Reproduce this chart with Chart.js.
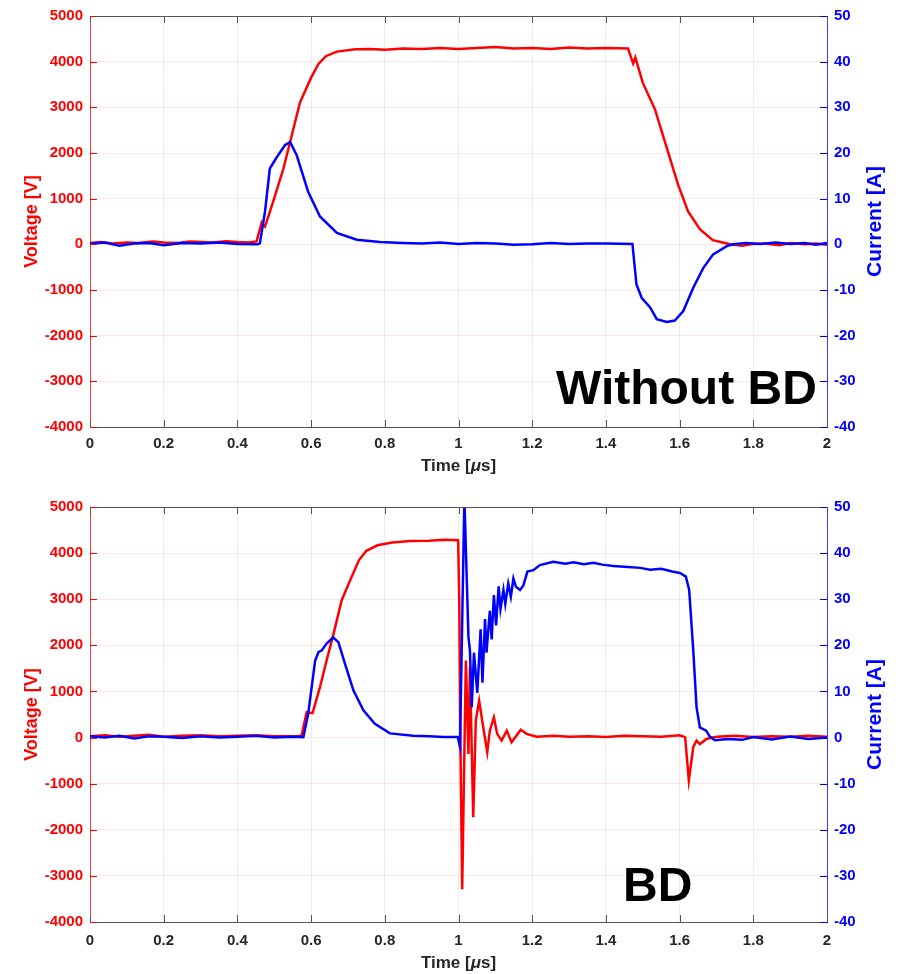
<!DOCTYPE html>
<html>
<head>
<meta charset="utf-8">
<script src="https://cdn.jsdelivr.net/npm/chart.js@4.4.0/dist/chart.umd.min.js"></script>
<style>
  html, body { margin: 0; padding: 0; background: #fff; }
  #wrap { position: relative; width: 902px; height: 974px; }
  canvas { position: absolute; left: 0; }
  #topChart { top: 0; }
  #botChart { top: 490px; }
</style>
</head>
<body>
<div id="wrap">
  <canvas id="topChart" width="902" height="490"></canvas>
  <canvas id="botChart" width="902" height="484"></canvas>
</div>
<script>
// ---- data (time in µs) ----
// top panel: without breakdown
const topVoltT = [0, 0.03, 0.06, 0.1, 0.13, 0.17, 0.2, 0.24, 0.27, 0.3, 0.33, 0.37, 0.4, 0.43, 0.452, 0.466, 0.475, 0.497, 0.525, 0.543, 0.57, 0.6, 0.62, 0.64, 0.67, 0.72, 0.76, 0.8, 0.85, 0.9, 0.95, 1.0, 1.05, 1.1, 1.15, 1.2, 1.25, 1.3, 1.35, 1.4, 1.46, 1.474, 1.48, 1.5, 1.533, 1.566, 1.596, 1.623, 1.655, 1.69, 1.737, 1.77, 1.8, 1.83, 1.87, 1.9, 1.94, 1.97, 2.0];
const topVoltV = [30, 50, 20, 40, 30, 60, 40, 30, 60, 50, 40, 70, 50, 40, 65, 480, 390, 935, 1660, 2240, 3110, 3650, 3950, 4120, 4220, 4270, 4280, 4260, 4290, 4280, 4300, 4280, 4300, 4320, 4290, 4300, 4280, 4310, 4290, 4300, 4290, 3960, 4090, 3540, 2960, 2090, 1300, 720, 330, 90, 0, -30, 10, 20, -20, 30, 0, 20, -10];
const topCurT = [0, 0.04, 0.08, 0.12, 0.16, 0.2, 0.25, 0.3, 0.35, 0.4, 0.455, 0.461, 0.475, 0.488, 0.507, 0.529, 0.543, 0.561, 0.592, 0.624, 0.67, 0.724, 0.787, 0.85, 0.9, 0.95, 1.0, 1.05, 1.1, 1.15, 1.2, 1.25, 1.3, 1.35, 1.4, 1.472, 1.483, 1.497, 1.52, 1.538, 1.565, 1.587, 1.61, 1.637, 1.664, 1.691, 1.728, 1.745, 1.78, 1.82, 1.86, 1.9, 1.94, 1.97, 2.0];
const topCurI = [0.1, 0.4, -0.3, 0.2, 0.3, -0.2, 0.3, 0.2, 0.4, 0.1, 0, 0.2, 7.2, 16.6, 19.1, 21.7, 22.4, 19.5, 11.5, 6.1, 2.5, 1.0, 0.5, 0.3, 0.2, 0.4, 0.1, 0.3, 0.2, -0.1, 0, 0.3, 0.1, 0.2, 0.2, 0.1, -8.8, -11.7, -13.8, -16.4, -17.0, -16.7, -14.6, -9.5, -5.2, -2.2, -0.4, 0, 0.3, 0.1, 0.4, 0.1, 0.3, -0.1, 0.3];

// bottom panel: breakdown
const botVoltT = [0, 0.04, 0.08, 0.12, 0.16, 0.2, 0.25, 0.3, 0.35, 0.4, 0.45, 0.5, 0.56, 0.574, 0.588, 0.604, 0.624, 0.642, 0.66, 0.683, 0.706, 0.73, 0.75, 0.78, 0.82, 0.87, 0.92, 0.96, 0.999, 1.002, 1.005, 1.01, 1.02, 1.027, 1.031, 1.04, 1.047, 1.056, 1.067, 1.078, 1.085, 1.096, 1.105, 1.117, 1.131, 1.144, 1.169, 1.185, 1.212, 1.26, 1.3, 1.35, 1.4, 1.45, 1.5, 1.55, 1.6, 1.615, 1.625, 1.637, 1.646, 1.655, 1.673, 1.7, 1.75, 1.8, 1.85, 1.9, 1.95, 2.0];
const botVoltV = [30, 50, 20, 40, 60, 20, 40, 50, 30, 40, 50, 30, 30, 40, 550, 530, 1090, 1670, 2220, 2980, 3410, 3850, 4050, 4170, 4230, 4260, 4270, 4290, 4280, 3000, 0, -3290, 1670, -355, 1530, -1730, 370, 800, 230, -320, 150, 440, 80, -65, 150, -100, 170, 80, 20, 40, 20, 30, 10, 40, 30, 20, 50, 10, -930, -210, -65, -140, -30, 20, 40, 10, 30, 20, 40, 20];
const botCurT = [0, 0.04, 0.08, 0.12, 0.16, 0.2, 0.25, 0.3, 0.35, 0.4, 0.45, 0.5, 0.55, 0.579, 0.592, 0.611, 0.62, 0.629, 0.642, 0.66, 0.674, 0.692, 0.715, 0.742, 0.773, 0.814, 0.877, 0.92, 0.96, 0.998, 1.004, 1.016, 1.027, 1.031, 1.036, 1.042, 1.051, 1.06, 1.065, 1.072, 1.076, 1.085, 1.09, 1.096, 1.102, 1.109, 1.114, 1.122, 1.127, 1.135, 1.142, 1.149, 1.156, 1.167, 1.176, 1.187, 1.203, 1.221, 1.257, 1.29, 1.312, 1.34, 1.366, 1.39, 1.42, 1.46, 1.493, 1.52, 1.55, 1.58, 1.601, 1.617, 1.626, 1.637, 1.646, 1.655, 1.672, 1.682, 1.696, 1.73, 1.77, 1.8, 1.85, 1.9, 1.95, 2.0];
const botCurI = [0.3, 0, 0.4, -0.2, 0.3, 0.2, -0.1, 0.3, 0, 0.2, 0.4, 0, 0.2, 0.1, 5.1, 16.7, 18.5, 18.9, 20.4, 21.7, 20.7, 16.0, 10.2, 5.9, 3.0, 0.9, 0.4, 0.3, 0.1, 0.1, -2, 52, 21.8, 18.9, 6.6, 18.4, 9.7, 23.5, 11.9, 25.7, 18.4, 27.5, 21.3, 30.9, 24.3, 32.8, 27.9, 32.0, 29.0, 33.4, 30.5, 34.5, 32.7, 32.0, 33.0, 36.0, 36.3, 37.4, 38.1, 37.7, 38.0, 37.6, 37.9, 37.5, 37.2, 37.0, 36.8, 36.4, 36.6, 36.0, 35.7, 34.9, 32, 19, 6.6, 2.2, 1.5, 0.2, -0.6, -0.3, -0.5, 0.1, -0.4, 0.2, -0.3, 0];

const FONT = 'Arial, "Liberation Sans", Helvetica, sans-serif';
const RED = '#ff0000', BLUE = '#0000ff', DARK = '#262626';

const pts = (ts, vs) => ts.map((t, i) => ({ x: t, y: vs[i] }));

// draws inward ticks, top frame, axis titles and the big panel tag
const decor = {
  id: 'decor',
  afterDraw(chart, args, o) {
    const { ctx, chartArea: a, scales } = chart;
    const TL = 7;
    ctx.save();
    ctx.lineWidth = 1;

    ctx.strokeStyle = '#555';
    ctx.beginPath();
    ctx.moveTo(a.left, a.top + 0.5); ctx.lineTo(a.right, a.top + 0.5);
    scales.x.ticks.forEach(t => {
      const px = Math.round(scales.x.getPixelForValue(t.value)) + 0.5;
      ctx.moveTo(px, a.bottom); ctx.lineTo(px, a.bottom - TL);
      ctx.moveTo(px, a.top);    ctx.lineTo(px, a.top + TL);
    });
    ctx.stroke();

    ctx.strokeStyle = RED;
    ctx.beginPath();
    scales.yV.ticks.forEach(t => {
      const py = Math.round(scales.yV.getPixelForValue(t.value)) + 0.5;
      ctx.moveTo(a.left, py); ctx.lineTo(a.left + TL, py);
    });
    ctx.stroke();

    ctx.strokeStyle = BLUE;
    ctx.beginPath();
    scales.yI.ticks.forEach(t => {
      const py = Math.round(scales.yI.getPixelForValue(t.value)) + 0.5;
      ctx.moveTo(a.right, py); ctx.lineTo(a.right - TL, py);
    });
    ctx.stroke();

    const midY = (a.top + a.bottom) / 2;
    ctx.textBaseline = 'middle';
    ctx.textAlign = 'center';

    // y titles, both reading bottom to top
    ctx.fillStyle = RED;
    ctx.font = `bold 18px ${FONT}`;
    ctx.save(); ctx.translate(32.5, midY); ctx.rotate(-Math.PI / 2);
    ctx.fillText('Voltage [V]', 0, 0); ctx.restore();

    ctx.fillStyle = BLUE;
    ctx.font = `bold 21px ${FONT}`;
    ctx.save(); ctx.translate(875.5, midY); ctx.rotate(-Math.PI / 2);
    ctx.fillText('Current [A]', 0, 0); ctx.restore();

    // x title with italic mu
    ctx.fillStyle = DARK;
    const f1 = `bold 17px ${FONT}`, f2 = `italic bold 17px ${FONT}`;
    const parts = [['Time [', f1], ['\u03bc', f2], ['s]', f1]];
    let w = 0;
    parts.forEach(p => { ctx.font = p[1]; w += ctx.measureText(p[0]).width; });
    let x = (a.left + a.right) / 2 - w / 2;
    ctx.textAlign = 'left';
    parts.forEach(p => {
      ctx.font = p[1];
      ctx.fillText(p[0], x, o.titleY);
      x += ctx.measureText(p[0]).width;
    });

    // panel tag
    ctx.fillStyle = '#000';
    ctx.font = `bold 48px ${FONT}`;
    ctx.textBaseline = 'alphabetic';
    ctx.fillText(o.tag, o.tagX, o.tagY);
    ctx.restore();
  }
};

function makeChart(id, voltT, voltV, curT, curI, opt) {
  const tickFont = { family: FONT, size: 15, weight: 'bold' };
  return new Chart(document.getElementById(id), {
    type: 'line',
    data: {
      datasets: [
        { label: 'Voltage', data: pts(voltT, voltV), yAxisID: 'yV', borderColor: RED, borderWidth: 2.5, pointRadius: 0, tension: 0, order: 2 },
        { label: 'Current', data: pts(curT, curI), yAxisID: 'yI', borderColor: BLUE, borderWidth: 2.5, pointRadius: 0, tension: 0, order: 1 }
      ]
    },
    options: {
      responsive: false,
      animation: false,
      devicePixelRatio: 1,
      layout: { padding: { top: opt.padTop, left: 0, right: 0, bottom: 0 } },
      plugins: {
        legend: { display: false },
        tooltip: { enabled: false },
        decor: { tag: opt.tag, tagX: opt.tagX, tagY: opt.tagY, titleY: opt.titleY }
      },
      scales: {
        x: {
          type: 'linear', min: 0, max: 2,
          afterFit: s => { s.height = opt.xHeight; },
          ticks: { stepSize: 0.2, color: DARK, font: tickFont, padding: opt.xPad, maxRotation: 0,
                   callback: v => String(+v.toFixed(1)) },
          grid: { color: 'rgba(0,0,0,0.07)', drawTicks: false },
          border: { color: '#555', width: 1 }
        },
        yV: {
          position: 'left', min: -4000, max: 5000,
          afterFit: s => { s.width = 90; },
          ticks: { stepSize: 1000, color: RED, font: tickFont, padding: 7, callback: v => String(v) },
          grid: { color: 'rgba(255,0,0,0.1)', drawTicks: false },
          border: { color: 'rgba(255,0,0,0.75)', width: 1 }
        },
        yI: {
          position: 'right', min: -40, max: 50,
          afterFit: s => { s.width = 75; },
          ticks: { stepSize: 10, color: BLUE, font: tickFont, padding: 7, callback: v => String(v) },
          grid: { drawOnChartArea: false, drawTicks: false },
          border: { color: 'rgba(0,0,255,0.75)', width: 1 }
        }
      }
    },
    plugins: [decor]
  });
}

makeChart('topChart', topVoltT, topVoltV, topCurT, topCurI,
  { padTop: 13, xHeight: 63, xPad: 8, titleY: 466, tag: 'Without BD', tagX: 556, tagY: 404 });
makeChart('botChart', botVoltT, botVoltV, botCurT, botCurI,
  { padTop: 17, xHeight: 52, xPad: 10, titleY: 473, tag: 'BD', tagX: 623, tagY: 411 });
</script>
</body>
</html>
